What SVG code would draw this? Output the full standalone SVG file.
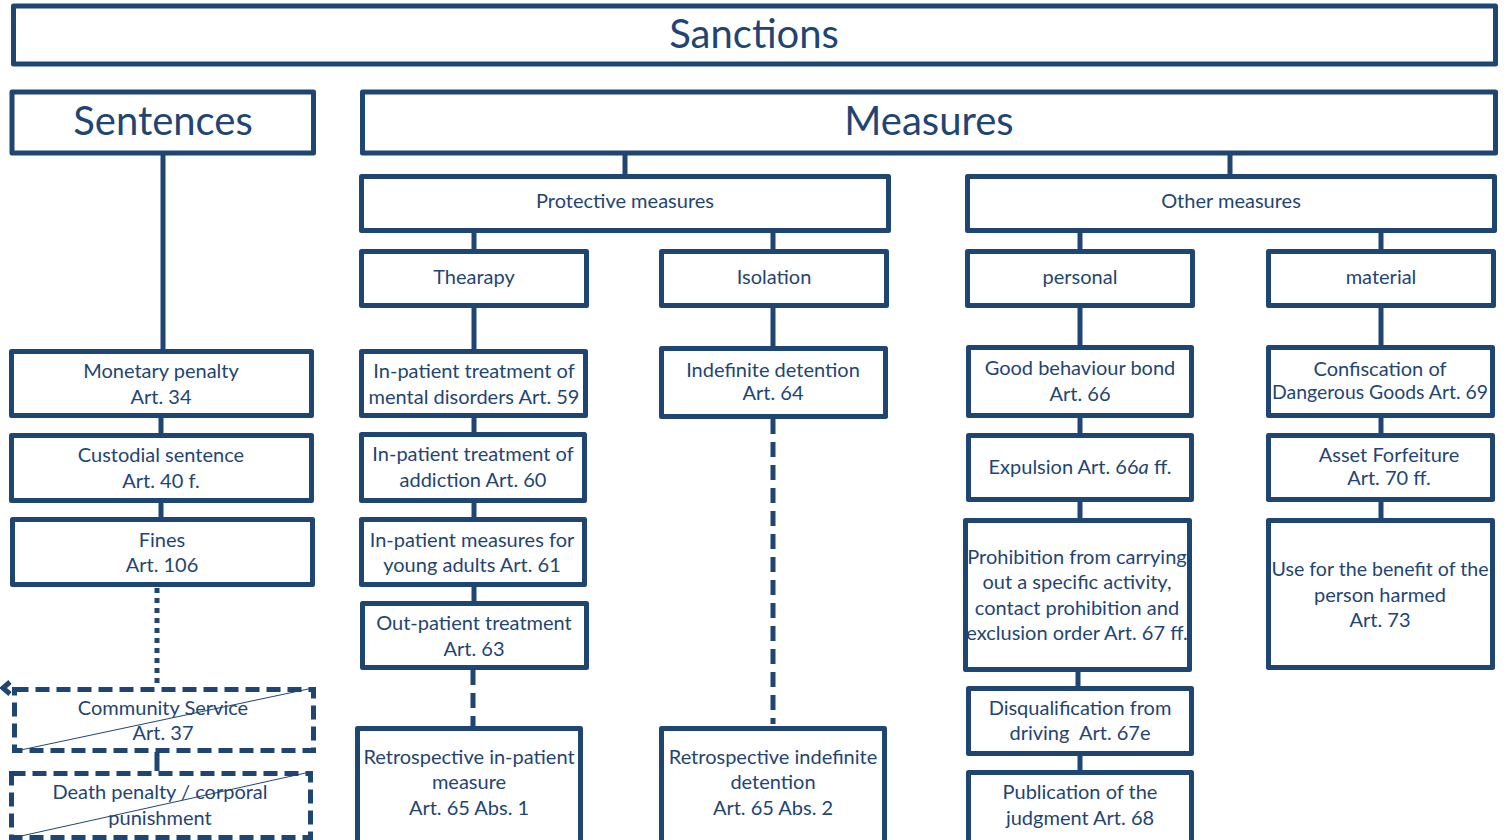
<svg xmlns="http://www.w3.org/2000/svg" width="1509" height="840" viewBox="0 0 1509 840">
<style>
.b{fill:#fff;stroke:#1F4573;stroke-width:5;stroke-linejoin:round}
.d{fill:#fff;stroke:#1F4573;stroke-width:5;stroke-dasharray:14 7}
.c{stroke:#1F4573;stroke-width:5;fill:none}
.cd{stroke:#1F4573;stroke-width:5;fill:none;stroke-dasharray:15 8}
.co{stroke:#1F4573;stroke-width:5;fill:none;stroke-dasharray:5 5}
.x{stroke:#1F4573;stroke-width:1;fill:none}
text{font-family:Lato,"Liberation Sans",sans-serif;fill:#1F4573;text-anchor:middle;font-size:20px;white-space:pre}
.big{font-size:40px}
</style>
<g id="connectors">
<line class="c" x1="163" y1="155" x2="163" y2="350"/>
<line class="c" x1="161" y1="417" x2="161" y2="434"/>
<line class="c" x1="161" y1="502" x2="161" y2="518"/>
<line class="co" x1="157" y1="588" x2="157" y2="686"/>
<line class="c" x1="157" y1="752" x2="157" y2="771"/>
<polyline class="c" points="10,682 3,688 10,694" stroke-width="4"/>
<line class="c" x1="625" y1="155" x2="625" y2="175"/>
<line class="c" x1="1230" y1="155" x2="1230" y2="175"/>
<line class="c" x1="474" y1="231" x2="474" y2="250"/>
<line class="c" x1="773" y1="231" x2="773" y2="250"/>
<line class="c" x1="1080" y1="231" x2="1080" y2="250"/>
<line class="c" x1="1381" y1="231" x2="1381" y2="250"/>
<line class="c" x1="474" y1="306" x2="474" y2="350"/>
<line class="c" x1="474" y1="417" x2="474" y2="433"/>
<line class="c" x1="474" y1="502" x2="474" y2="518"/>
<line class="c" x1="474" y1="586" x2="474" y2="602"/>
<line class="cd" x1="473" y1="670" x2="473" y2="726"/>
<line class="c" x1="773" y1="306" x2="773" y2="347"/>
<line class="cd" x1="773" y1="419" x2="773" y2="724"/>
<line class="c" x1="1080" y1="306" x2="1080" y2="346"/>
<line class="c" x1="1080" y1="417" x2="1080" y2="434"/>
<line class="c" x1="1080" y1="501" x2="1080" y2="519"/>
<line class="c" x1="1078" y1="671" x2="1078" y2="687"/>
<line class="c" x1="1080" y1="755" x2="1080" y2="771"/>
<line class="c" x1="1381" y1="306" x2="1381" y2="346"/>
<line class="c" x1="1381" y1="417" x2="1381" y2="434"/>
<line class="c" x1="1381" y1="501" x2="1381" y2="519"/>
</g>
<g id="sanctions"><rect class="b" x="13.5" y="6" width="1482" height="58"/><text class="big" x="754" y="48">Sanctions</text></g>
<g id="sentences"><rect class="b" x="12" y="92" width="301.5" height="61"/><text class="big" x="163" y="135">Sentences</text></g>
<g id="measures"><rect class="b" x="362.5" y="92" width="1133" height="61"/><text class="big" x="929" y="135">Measures</text></g>
<g id="protective"><rect class="b" x="361.5" y="176.5" width="527" height="54"/><text x="625" y="208">Protective measures</text></g>
<g id="other"><rect class="b" x="967.5" y="176.5" width="527" height="54"/><text x="1231" y="208">Other measures</text></g>
<g id="thearapy"><rect class="b" x="361.5" y="251.5" width="225" height="54"/><text x="474" y="284">Thearapy</text></g>
<g id="isolation"><rect class="b" x="661.5" y="251.5" width="225" height="54"/><text x="774" y="284">Isolation</text></g>
<g id="personal"><rect class="b" x="967.5" y="251.5" width="225" height="54"/><text x="1080" y="284">personal</text></g>
<g id="material"><rect class="b" x="1268.5" y="251.5" width="225" height="54"/><text x="1381" y="284">material</text></g>
<g id="monetary"><rect class="b" x="11.5" y="351.5" width="300" height="64"/><text x="161" y="378">Monetary penalty</text><text x="161" y="404">Art. 34</text></g>
<g id="custodial"><rect class="b" x="11.5" y="435.5" width="300" height="65"/><text x="161" y="462">Custodial sentence</text><text x="161" y="488">Art. 40 f.</text></g>
<g id="fines"><rect class="b" x="12.5" y="519.5" width="300" height="65"/><text x="162" y="547">Fines</text><text x="162" y="572">Art. 106</text></g>
<g id="community"><rect class="d" x="14.5" y="689.5" width="299" height="61"/><line class="x" x1="16" y1="751" x2="313" y2="688"/><text x="163" y="715">Community Service</text><text x="163" y="740">Art. 37</text></g>
<g id="death"><rect class="d" x="11.5" y="773.5" width="299" height="64"/><line class="x" x1="12" y1="838" x2="310" y2="772"/><text x="160" y="799">Death penalty / corporal</text><text x="160" y="825">punishment</text></g>
<g id="art59"><rect class="b" x="361.5" y="351.5" width="224" height="64"/><text x="474" y="378">In-patient treatment of</text><text x="474" y="404">mental disorders Art. 59</text></g>
<g id="art60"><rect class="b" x="361.5" y="434.5" width="223" height="66"/><text x="473" y="461">In-patient treatment of</text><text x="473" y="487">addiction Art. 60</text></g>
<g id="art61"><rect class="b" x="361.5" y="519.5" width="223" height="65"/><text x="472" y="547">In-patient measures for</text><text x="472" y="572">young adults Art. 61</text></g>
<g id="art63"><rect class="b" x="362.5" y="603.5" width="224" height="64"/><text x="474" y="630">Out-patient treatment</text><text x="474" y="656">Art. 63</text></g>
<g id="art65a"><rect class="b" x="357.5" y="728.5" width="223" height="114"/><text x="469" y="764">Retrospective in-patient</text><text x="469" y="789">measure</text><text x="469" y="815">Art. 65 Abs. 1</text></g>
<g id="art64"><rect class="b" x="661.5" y="348.5" width="224" height="68"/><text x="773" y="377">Indefinite detention</text><text x="773" y="400">Art. 64</text></g>
<g id="art65b"><rect class="b" x="661.5" y="728.5" width="223" height="114"/><text x="773" y="764">Retrospective indefinite</text><text x="773" y="789">detention</text><text x="773" y="815">Art. 65 Abs. 2</text></g>
<g id="art66"><rect class="b" x="968.5" y="347.5" width="223" height="68"/><text x="1080" y="375">Good behaviour bond</text><text x="1080" y="401">Art. 66</text></g>
<g id="art66a"><rect class="b" x="968.5" y="435.5" width="223" height="64"/><text x="1080" y="474">Expulsion Art. 66<tspan font-style="italic">a</tspan> ff.</text></g>
<g id="art67"><rect class="b" x="965.5" y="520.5" width="224" height="149"/><text x="1077" y="564">Prohibition from carrying</text><text x="1077" y="589">out a specific activity,</text><text x="1077" y="615">contact prohibition and</text><text x="1077" y="640">exclusion order Art. 67 ff.</text></g>
<g id="art67e"><rect class="b" x="968.5" y="688.5" width="223" height="65"/><text x="1080" y="715">Disqualification from</text><text x="1080" y="740">driving  Art. 67e</text></g>
<g id="art68"><rect class="b" x="968.5" y="772.5" width="223" height="70"/><text x="1080" y="799">Publication of the</text><text x="1080" y="825">judgment Art. 68</text></g>
<g id="art69"><rect class="b" x="1268.5" y="347.5" width="224" height="68"/><text x="1380" y="376">Confiscation of</text><text x="1380" y="399" textLength="216" lengthAdjust="spacingAndGlyphs">Dangerous Goods Art. 69</text></g>
<g id="art70"><rect class="b" x="1268.5" y="435.5" width="224" height="64"/><text x="1389" y="462">Asset Forfeiture</text><text x="1389" y="485">Art. 70 ff.</text></g>
<g id="art73"><rect class="b" x="1268.5" y="520.5" width="224" height="147"/><text x="1380" y="576" textLength="217" lengthAdjust="spacingAndGlyphs">Use for the benefit of the</text><text x="1380" y="602">person harmed</text><text x="1380" y="627">Art. 73</text></g>
</svg>
